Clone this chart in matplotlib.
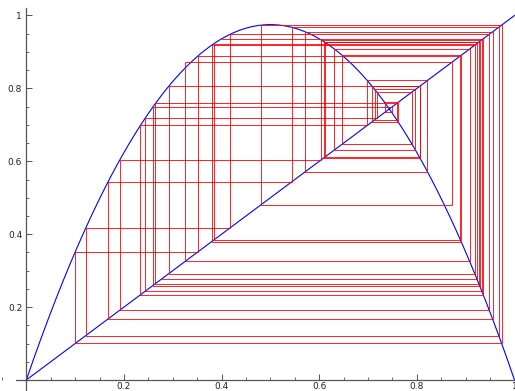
import numpy as np
import matplotlib
matplotlib.use('Agg')
import matplotlib.pyplot as plt
from matplotlib.ticker import MultipleLocator

# logistic map f(x) = r*x*(1-x), cobweb from x0 = 0.4, 50 iterations
r = 3.9
orbit = [0.4000, 0.9360, 0.2336, 0.6983, 0.8217, 0.5714, 0.9551, 0.1673, 0.5432, 0.9677,
         0.1218, 0.4172, 0.9482, 0.1914, 0.6036, 0.9332, 0.2432, 0.7178, 0.7900, 0.6470,
         0.8907, 0.3796, 0.9185, 0.2920, 0.8062, 0.6092, 0.9285, 0.2590, 0.7486, 0.7340,
         0.7614, 0.7085, 0.8054, 0.6112, 0.9268, 0.2646, 0.7589, 0.7136, 0.7970, 0.6309,
         0.9082, 0.3252, 0.8720, 0.4811, 0.9736, 0.1002, 0.3517, 0.8892, 0.3841, 0.9226,
         0.2784]
ticks = [0.2, 0.4, 0.6, 0.8, 1.0]
tick_labels = ['0.2', '0.4', '0.6', '0.8', '1']

def f(x):
    return r * x * (1 - x)

# cobweb path: (x_k, x_k+1) -> (x_k+1, x_k+1)
cx, cy = [], []
for a, b in zip(orbit[:-1], orbit[1:]):
    cx += [a, b]
    cy += [b, b]

fig = plt.figure(figsize=(5.15, 3.91), dpi=100)
ax = fig.add_axes([0, 0, 1, 1])

x = np.linspace(0, 1, 400)
ax.plot(x, f(x), color='blue', lw=0.8)
ax.plot([0, 1], [0, 1], color='blue', lw=0.8)
ax.plot(cx, cy, color='red', lw=0.6)

ax.set_xlim(-0.0539, 1.001)
ax.set_ylim(-0.0302, 1.0425)

for s in ['top', 'right']:
    ax.spines[s].set_visible(False)
ax.spines['left'].set_position(('data', 0))
ax.spines['bottom'].set_position(('data', 0))
ax.spines['left'].set_bounds(-0.03, 1.02)
ax.spines['bottom'].set_bounds(-0.021, 1.0)
for s in ['left', 'bottom']:
    ax.spines[s].set_color('#555555')
    ax.spines[s].set_linewidth(0.9)

ax.set_xticks(ticks)
ax.set_xticklabels(tick_labels)
ax.set_yticks(ticks)
ax.set_yticklabels(tick_labels)
ax.xaxis.set_minor_locator(MultipleLocator(0.05))
ax.yaxis.set_minor_locator(MultipleLocator(0.05))
ax.tick_params(which='major', direction='in', length=4, width=0.7, color='#555555',
               labelsize=6.5, labelcolor='#222222', pad=3)
ax.tick_params(axis='x', which='major', pad=1.5)
ax.tick_params(which='minor', direction='in', length=2, width=0.6, color='#555555')

fig.savefig('out.png', dpi=100)
